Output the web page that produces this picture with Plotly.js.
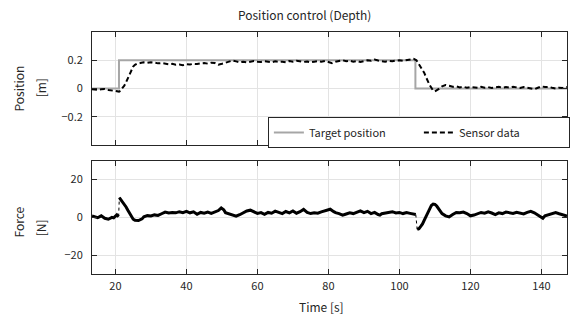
<!DOCTYPE html>
<html>
<head>
<meta charset="utf-8">
<script src="https://cdn.plot.ly/plotly-3.0.1.min.js"></script>
<style>html,body{margin:0;padding:0;background:#fff}#chart{width:571px;height:320px}</style>
</head>
<body>
<div id="chart"></div>
<script>
// ---- data ----
var targetTime = [13.4, 21.0, 21.0, 104.5, 104.5, 147.2];
var targetPos  = [0, 0, 0.2, 0.2, 0, 0];

var sensorTime = [13.4,14,15,16,17,18,19,20,21,21.5,22,22.5,23,23.5,24,24.5,25,25.5,26,27,28,29,30,31,32,33,34,35,36,37,38,39,40,41,42,43,44,45,46,47,48,49,50,51,52,53,54,55,56,57,58,59,60,61,62,63,64,65,66,67,68,69,70,71,72,73,74,75,76,77,78,79,80,81,82,83,84,85,86,87,88,89,90,91,92,93,94,95,96,97,98,99,100,101,102,103,104,104.8,105.5,106,106.5,107,107.5,108,108.5,109,109.5,110,110.5,111,112,113,114,115,116,117,118,119,120,121,122,123,124,125,126,127,128,129,130,131,132,133,134,135,136,137,138,139,140,141,142,143,144,145,146,147.2];
var sensorPos = [-0.005,-0.008,-0.010,-0.006,-0.004,-0.010,-0.012,-0.018,-0.022,-0.015,0.005,0.02,0.045,0.075,0.105,0.13,0.155,0.168,0.175,0.18,0.185,0.182,0.186,0.183,0.178,0.18,0.176,0.172,0.175,0.168,0.17,0.165,0.172,0.17,0.175,0.173,0.178,0.18,0.176,0.183,0.18,0.168,0.175,0.182,0.19,0.198,0.192,0.186,0.19,0.185,0.19,0.195,0.19,0.188,0.193,0.19,0.186,0.192,0.188,0.19,0.186,0.195,0.19,0.196,0.192,0.188,0.191,0.186,0.19,0.194,0.19,0.195,0.188,0.18,0.19,0.196,0.2,0.193,0.197,0.19,0.195,0.188,0.192,0.2,0.196,0.205,0.198,0.195,0.19,0.196,0.193,0.198,0.2,0.196,0.2,0.205,0.21,0.2,0.17,0.15,0.135,0.11,0.08,0.05,0.025,0.005,-0.015,-0.02,-0.015,-0.005,0.015,0.025,0.02,0.012,0.015,0.008,0.012,0.006,0.01,0.008,0.005,0.012,0.006,0.01,0.004,0.008,0.012,0.005,0.01,0.006,0.012,0.008,0.004,0.01,0.005,0.0,-0.005,0.005,0.015,0.01,0.012,0.005,0.0,0.006,0.004,0.01];

var forceTime = [13.4,14,15,16,17,18,19,19.5,20,20.4,20.9,21.0,21.1,21.5,22,22.5,23,23.5,24,24.5,25,25.5,26.5,27.5,28,29,30,31,32,33,34,35,36,37,38,39,40,41,42,43,44,45,46,47,48,49,49.8,50.5,51,52,53,54,55,56,57,58,59,60,61,62,63,64,65,66,67,68,69,70,71,72,73,74,75,76,77,78,79,80.5,81.5,82,83,84,85,86,87,88,89,90,91,92,93,94,94.5,95,96,97,98,99,100,101,102,103,104,104.6,104.8,105,105.5,106,106.5,107,107.5,108,108.5,109,109.5,110,110.5,111,111.5,112,113,114,115,116,117,118,119,120,121,122,123,124,125,126,127,128,129,130,131,132,133,134,135,136,137,138,139,140.4,141,142,143,144,145,146,147.2];
var forceVal = [0.7,0.3,-0.2,0.8,-0.5,-1.0,0.0,-0.3,0.8,1.3,0.4,null,10.5,9.5,8.4,7.3,5.5,3.8,2.0,0.2,-1.0,-1.5,-1.7,-0.8,0.3,0.9,0.7,1.3,1.0,1.9,2.8,2.3,2.6,2.4,3.0,2.5,3.2,2.4,2.9,1.6,2.6,2.2,2.8,2.1,3.0,3.6,5.0,4.0,2.5,1.8,1.0,0.6,1.4,2.3,3.4,3.8,3.0,2.1,2.5,1.6,2.6,2.2,3.3,2.7,2.0,3.1,2.4,3.4,2.2,3.0,4.2,2.6,2.0,2.4,2.2,2.9,3.5,4.3,3.0,2.5,2.0,1.2,1.8,2.4,2.0,2.9,3.4,2.5,3.2,2.0,2.6,1.5,1.2,1.9,2.3,2.8,3.0,2.3,2.6,2.0,2.5,2.1,1.8,1.5,null,-6.4,-6.0,-4.8,-3.5,-1.5,0.5,2.6,4.7,6.3,7.0,6.9,6.0,4.6,3.2,2.0,0.8,0.2,1.5,2.6,2.4,2.8,2.0,0.8,1.2,2.1,2.6,2.2,2.9,2.3,1.5,2.4,2.0,2.8,2.5,2.1,2.7,2.2,1.8,2.6,3.2,2.4,1.2,-0.5,0.8,1.5,2.0,2.5,1.9,1.2,0.7];

var xTicks = [20, 40, 60, 80, 100, 120, 140];
var posTicks = [-0.2, 0, 0.2];
var posTickText = ['\u22120.2', '0', '0.2'];
var forceTicks = [-20, 0, 20];
var forceTickText = ['\u221220', '0', '20'];

// connectors across sparse jumps (dotted)
var connectors = [];
forceVal.forEach(function(v, i){
  if (v === null) {
    connectors.push({
      x: [forceTime[i-1], forceTime[i+1]],
      y: [forceVal[i-1], forceVal[i+1]],
      type: 'scatter', mode: 'lines', xaxis: 'x2', yaxis: 'y2',
      line: {color: '#000', width: 1, dash: 'dot'}, showlegend: false, hoverinfo: 'skip'
    });
  }
});

var FONT = '"Noto Sans CJK JP", "Noto Sans", sans-serif';
var TXT = '#262626';

var traces = [
  {x: targetTime, y: targetPos, type: 'scatter', mode: 'lines', name: 'Target position',
   line: {color: '#a6a6a6', width: 2}, xaxis: 'x', yaxis: 'y'},
  {x: sensorTime, y: sensorPos, type: 'scatter', mode: 'lines', name: 'Sensor data',
   line: {color: '#000', width: 2, dash: '5px,3px'}, xaxis: 'x', yaxis: 'y'},
  {x: forceTime, y: forceVal, type: 'scatter', mode: 'lines', name: 'Force',
   line: {color: '#000', width: 3}, connectgaps: false, showlegend: false, xaxis: 'x2', yaxis: 'y2'}
].concat(connectors);

var L = 92, R = 1, T = 32, B = 46, W = 571, H = 320;
var PW = W - L - R, PH = H - T - B;
function px2x(p){ return (p - L) / PW; }
function py2y(p){ return (H - B - p) / PH; }

var axisCommon = {
  showline: true, mirror: 'ticks', linecolor: TXT, linewidth: 1,
  ticks: 'inside', ticklen: 5, tickcolor: TXT, tickwidth: 1,
  showgrid: true, gridcolor: '#e3e3e3', gridwidth: 1, zeroline: false,
  tickfont: {family: FONT, size: 11, color: TXT}
};

var layout = {
  width: W, height: H,
  margin: {l: L, r: R, t: T, b: B},
  paper_bgcolor: '#fff', plot_bgcolor: '#fff',
  font: {family: FONT, color: TXT},
  showlegend: true,
  legend: {
    orientation: 'h', x: px2x(269), y: py2y(117), xanchor: 'left', yanchor: 'top',
    xref: 'paper', yref: 'paper',
    bgcolor: '#fff', bordercolor: TXT, borderwidth: 1,
    font: {family: FONT, size: 11, color: TXT},
    entrywidth: 105, entrywidthmode: 'pixels', tracegroupgap: 0
  },
  xaxis: Object.assign({}, axisCommon, {
    domain: [0, 1], range: [13.4, 147.2], anchor: 'y',
    tickvals: xTicks, showticklabels: false
  }),
  yaxis: Object.assign({}, axisCommon, {
    domain: [py2y(145), 1], range: [-0.4, 0.4], anchor: 'x',
    tickvals: posTicks, ticktext: posTickText, ticklabelstandoff: 6
  }),
  xaxis2: Object.assign({}, axisCommon, {
    domain: [0, 1], range: [13.4, 147.2], anchor: 'y2',
    tickvals: xTicks, ticklabelstandoff: 2
  }),
  yaxis2: Object.assign({}, axisCommon, {
    domain: [0, py2y(160.7)], range: [-30, 30], anchor: 'x2',
    tickvals: forceTicks, ticktext: forceTickText, ticklabelstandoff: 6
  }),
  title: {
    text: 'Position control (Depth)', x: px2x(306), xref: 'paper', xanchor: 'center',
    y: 1 - 16 / H, yanchor: 'middle',
    font: {family: FONT, size: 12, color: TXT}
  },
  annotations: [
    {text: 'Time [s]', xref: 'paper', yref: 'paper', x: px2x(323), y: py2y(306),
     showarrow: false, xanchor: 'center', yanchor: 'middle', font: {family: FONT, size: 12, color: TXT}},
    {text: 'Position', xref: 'paper', yref: 'paper', x: px2x(18), y: py2y(88), textangle: -90,
     showarrow: false, xanchor: 'center', yanchor: 'middle', font: {family: FONT, size: 12, color: TXT}},
    {text: '[m]', xref: 'paper', yref: 'paper', x: px2x(40), y: py2y(88), textangle: -90,
     showarrow: false, xanchor: 'center', yanchor: 'middle', font: {family: FONT, size: 12, color: TXT}},
    {text: 'Force', xref: 'paper', yref: 'paper', x: px2x(18), y: py2y(222), textangle: -90,
     showarrow: false, xanchor: 'center', yanchor: 'middle', font: {family: FONT, size: 12, color: TXT}},
    {text: '[N]', xref: 'paper', yref: 'paper', x: px2x(40), y: py2y(228), textangle: -90,
     showarrow: false, xanchor: 'center', yanchor: 'middle', font: {family: FONT, size: 12, color: TXT}}
  ]
};

Plotly.newPlot('chart', traces, layout, {displayModeBar: false, staticPlot: true});
</script>
</body>
</html>
